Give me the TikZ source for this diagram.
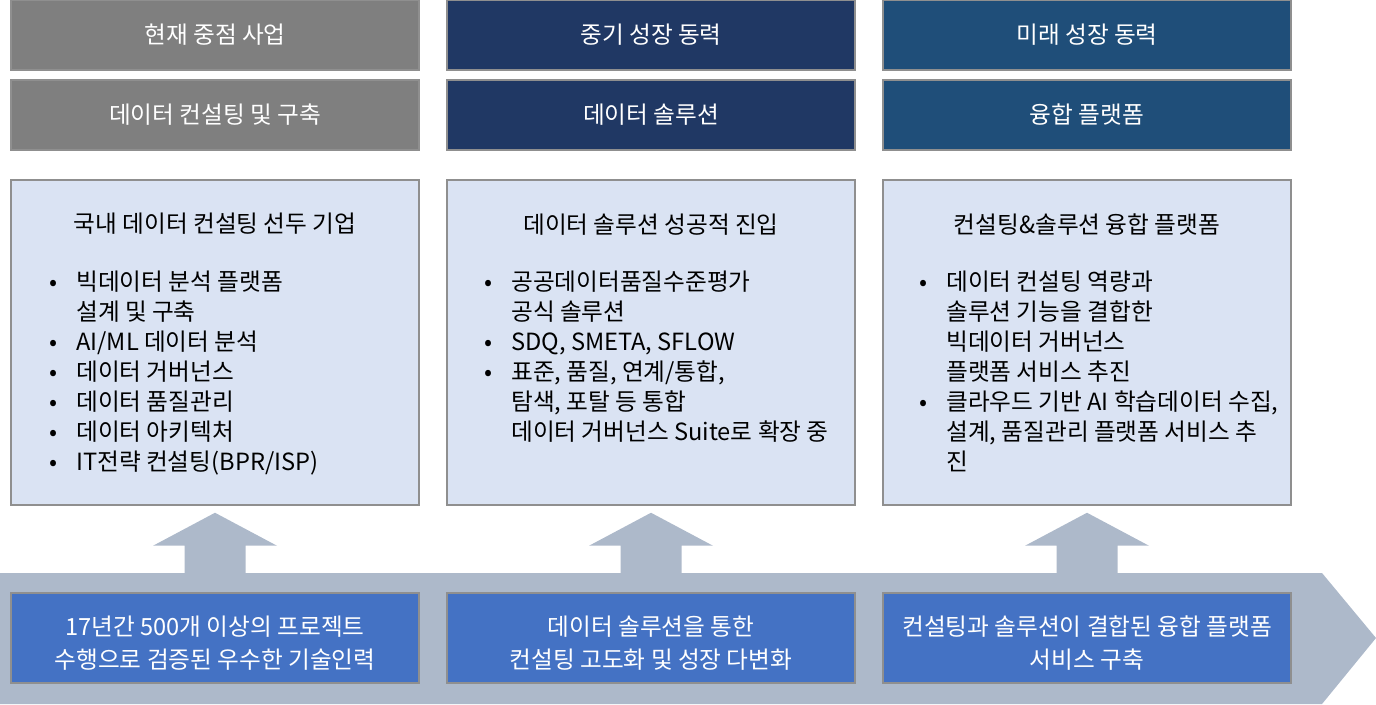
\documentclass[tikz,border=0pt]{standalone}
\usepackage{fontspec}
\setmainfont{Noto Sans CJK KR}
\usetikzlibrary{positioning}
\usetikzlibrary{calc}

\definecolor{hdgray}{HTML}{7F7F7F}
\definecolor{hdnavy}{HTML}{203864}
\definecolor{hdblue}{HTML}{1F4E79}
\definecolor{bodyfill}{HTML}{DAE3F3}
\definecolor{basefill}{HTML}{4472C4}
\definecolor{flowgray}{HTML}{ADB9CA}
\definecolor{edgegray}{HTML}{8F8F8F}

\newcommand{\bul}{\makebox[20.25pt][l]{\textbullet}}
\newcommand{\ind}{\hspace*{20.25pt}}

\tikzset{
    hdbox/.style={draw=edgegray, line width=1.1pt, minimum width=306pt, minimum height=52.5pt, inner sep=0pt, text=white},
    bodybox/.style={draw=edgegray, line width=1.1pt, minimum width=306pt, minimum height=243.75pt, inner sep=0pt, fill=bodyfill},
    basebox/.style={draw=edgegray, line width=1.1pt, minimum width=306pt, minimum height=67.5pt, inner sep=0pt, fill=basefill},
    basetext/.style={inner sep=0pt, text=white, align=center, font=\fontsize{17.75}{24.75}\selectfont},
    listtext/.style={anchor=north west, inner sep=0pt, align=left}
}

\begin{document}
\begin{tikzpicture}[x=0.75pt, y=-0.75pt, font=\fontsize{17.75}{22.5}\selectfont]
        \useasboundingbox (0,0) rectangle (1376,704);
        % flow along the bottom
        \fill [flowgray] (0,573) -- (1322,573) -- (1376,638) -- (1322,704) -- (0,704) -- cycle;
        % headers
        \node [hdbox, fill=hdgray] (top1) at (215,35) {현재 중점 사업};
        \node [hdbox, fill=hdnavy] (top2) at (651,35) {중기 성장 동력};
        \node [hdbox, fill=hdblue] (top3) at (1087,35) {미래 성장 동력};
        \node [hdbox, fill=hdgray] (sub1) at (215,115) {데이터 컨설팅 및 구축};
        \node [hdbox, fill=hdnavy] (sub2) at (651,115) {데이터 솔루션};
        \node [hdbox, fill=hdblue] (sub3) at (1087,115) {융합 플랫폼};
        % body boxes
        \foreach \k/\cx in {1/215, 2/651, 3/1087}
            \node [bodybox] (body\k) at (\cx,342.5) {};
        \node (title1) at (215,224) {국내 데이터 컨설팅 선두 기업};
        \node (title2) at (651,225) {데이터 솔루션 성공적 진입};
        \node (title3) at (1087,225) {컨설팅\&솔루션 융합 플랫폼};
        \node [listtext] (list1) at (49,271) {\bul 빅데이터 분석 플랫폼\\ \ind 설계 및 구축\\ \bul AI/ML 데이터 분석\\ \bul 데이터 거버넌스\\ \bul 데이터 품질관리\\ \bul 데이터 아키텍처\\ \bul IT전략 컨설팅(BPR/ISP)};
        \node [listtext] (list2) at (484,271) {\bul 공공데이터품질수준평가\\ \ind 공식 솔루션\\ \bul SDQ, SMETA, SFLOW\\ \bul 표준, 품질, 연계/통합,\\ \ind 탐색, 포탈 등 통합\\ \ind 데이터 거버넌스 Suite로 확장 중};
        \node [listtext] (list3) at (919,271) {\bul 데이터 컨설팅 역량과\\ \ind 솔루션 기능을 결합한\\ \ind 빅데이터 거버넌스\\ \ind 플랫폼 서비스 추진\\ \bul 클라우드 기반 AI 학습데이터 수집,\\ \ind 설계, 품질관리 플랫폼 서비스 추\\ \ind 진};
        % up arrows
        \foreach \k in {1,2,3}
            \fill [flowgray] ($(body\k.south)+(0,7)$) -- ++(62,33) -- ++(-31.5,0) -- ++(0,28) -- ++(-61,0) -- ++(0,-28) -- ++(-31.5,0) -- cycle;
        % base boxes
        \foreach \k/\cx in {1/215, 2/651, 3/1087}
            \node [basebox] (base\k) at (\cx,638) {};
        \node [basetext] (btext1) at ($(base1)+(0,5)$) {17년간 500개 이상의 프로젝트\\수행으로 검증된 우수한 기술인력};
        \node [basetext] (btext2) at ($(base2)+(0,5)$) {데이터 솔루션을 통한\\컨설팅 고도화 및 성장 다변화};
        \node [basetext] (btext3) at ($(base3)+(0,5)$) {컨설팅과 솔루션이 결합된 융합 플랫폼\\서비스 구축};
    \end{tikzpicture}
\end{document}
